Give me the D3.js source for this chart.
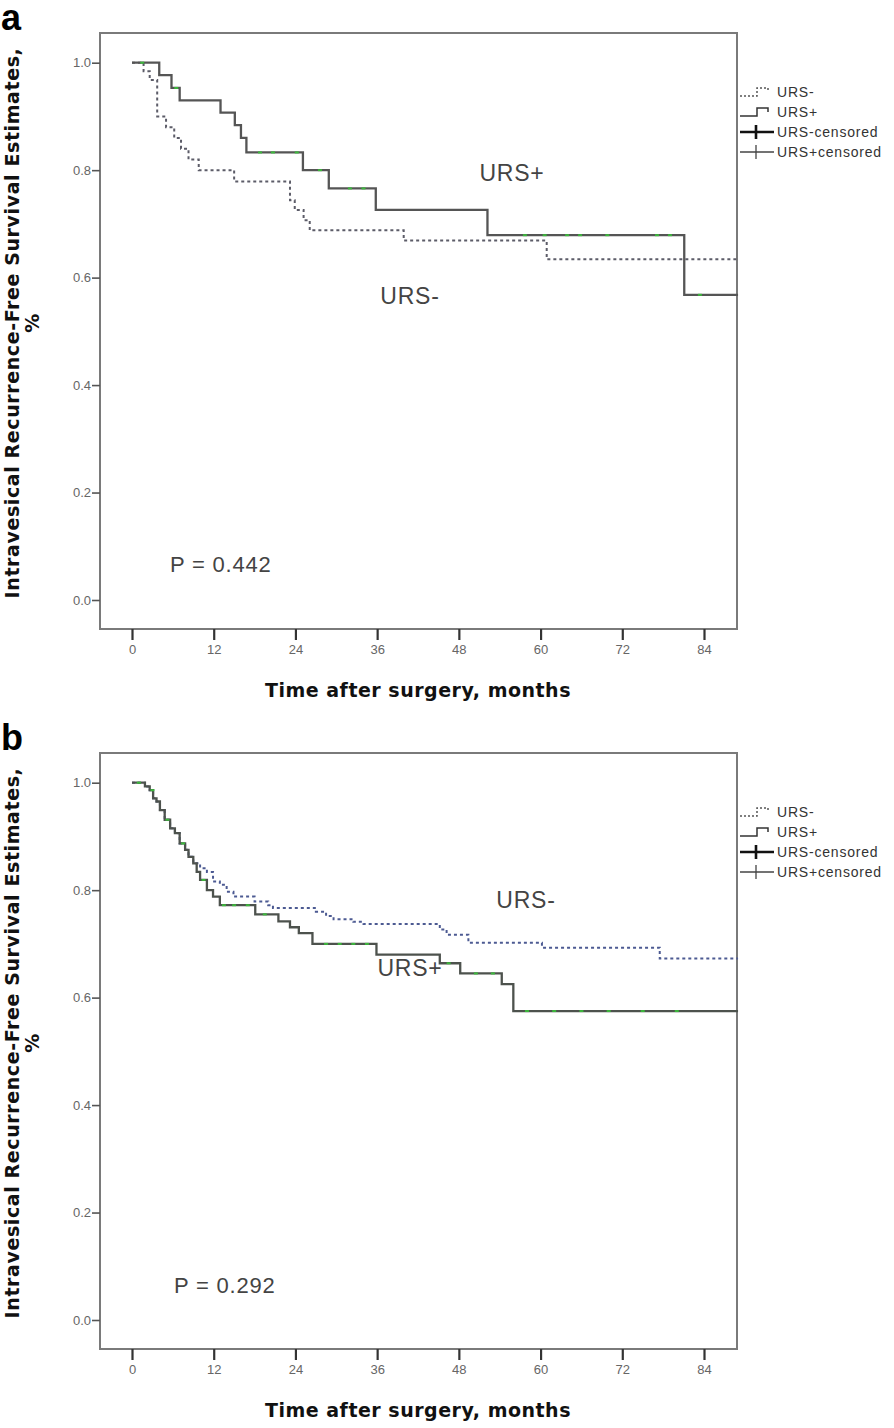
<!DOCTYPE html>
<html><head><meta charset="utf-8">
<script src="https://cdn.jsdelivr.net/npm/d3@7"></script>
<style>html,body{margin:0;padding:0;background:#fff}</style>
</head><body>
<script>
// ---- data ----
const xTicks = [0, 12, 24, 36, 48, 60, 72, 84];
const yTicks = [0, 0.2, 0.4, 0.6, 0.8, 1.0];
const legendLabels = ["URS-", "URS+", "URS-censored", "URS+censored"];

// Panel a
const aPlusTime = [0, 4.0, 5.8, 7.0, 13.0, 15.1, 16.0, 16.8, 25.1, 28.9, 35.8, 52.2, 81.1, 89];
const aPlusSurv = [1, 0.977, 0.953, 0.930, 0.907, 0.884, 0.860, 0.833, 0.800, 0.766, 0.726, 0.679, 0.568, 0.568];
const aMinusTime = [0, 1.7, 2.6, 3.7, 5.0, 6.2, 7.2, 8.3, 9.8, 15.0, 23.2, 23.9, 25.2, 26.1, 39.9, 60.9, 89];
const aMinusSurv = [1, 0.984, 0.968, 0.900, 0.880, 0.860, 0.840, 0.820, 0.800, 0.779, 0.744, 0.726, 0.707, 0.688, 0.669, 0.634, 0.634];
const aPlusCensor = [1.5, 6.5, 18.8, 20.7, 24.2, 27.6, 32.0, 34.0, 57.7, 60.6, 63.9, 65.8, 69.8, 77.1, 79.0, 83.4];

// Panel b
const bPlusTime = [0, 1.9, 2.6, 3.1, 3.6, 4.1, 4.8, 5.6, 6.3, 7.0, 7.8, 8.3, 9.0, 9.5, 10.0, 11.0, 11.9, 12.9, 18.1, 21.5, 23.2, 24.5, 26.5, 35.9, 45.2, 48.2, 54.3, 56.0, 89];
const bPlusSurv = [1, 0.993, 0.986, 0.971, 0.965, 0.949, 0.931, 0.915, 0.906, 0.887, 0.875, 0.862, 0.850, 0.834, 0.819, 0.800, 0.788, 0.772, 0.755, 0.742, 0.731, 0.720, 0.700, 0.680, 0.664, 0.645, 0.625, 0.575, 0.575];
const bMinusTime = [0, 1.9, 2.6, 3.1, 3.6, 4.1, 4.8, 5.6, 6.3, 7.0, 7.8, 8.3, 9.0, 10.0, 11.0, 11.9, 12.9, 13.9, 14.9, 18.0, 20.0, 20.7, 27.0, 28.5, 29.6, 32.5, 34.0, 45.2, 46.2, 49.4, 60.2, 77.5, 89];
const bMinusSurv = [1, 0.993, 0.986, 0.971, 0.965, 0.949, 0.931, 0.915, 0.906, 0.887, 0.875, 0.862, 0.850, 0.841, 0.834, 0.816, 0.810, 0.797, 0.788, 0.779, 0.772, 0.767, 0.760, 0.752, 0.746, 0.741, 0.737, 0.727, 0.717, 0.702, 0.693, 0.673, 0.673];
const bPlusCensor = [1.0, 3.0, 5.2, 7.5, 10.5, 13.5, 15.0, 17.0, 19.5, 28.5, 30.5, 32.5, 34.5, 46.5, 50.5, 53.0, 58.0, 62.0, 66.0, 70.0, 75.0, 80.0];

const pValues = ["P = 0.442", "P = 0.292"];
const panelLetters = ["a", "b"];
const curveLabels = [["URS+", "URS-"], ["URS-", "URS+"]];

// ---- layout ----
const W = 894, H = 1428;
const svg = d3.select("body").append("svg").attr("width", W).attr("height", H)
  .style("font-family", "'Liberation Sans', Arial, sans-serif");

const x = d3.scaleLinear().domain([0, 84]).range([132, 704]);
const frameL = 100, frameR = 737;

const panels = [
  { dy: 0, plus: [aPlusTime, aPlusSurv], minus: [aMinusTime, aMinusSurv], censor: aPlusCensor,
    labelPos: [[512, 181], [410, 304]], pPos: [170, 572],
    minusColor: "#5c5c68", plusColor: "#555" },
  { dy: 720, plus: [bPlusTime, bPlusSurv], minus: [bMinusTime, bMinusSurv], censor: bPlusCensor,
    labelPos: [[526, 908], [410, 976]], pPos: [174, 1293],
    minusColor: "#4c5a92", plusColor: "#4d524d" }
];

panels.forEach((p, i) => {
  const g = svg.append("g");
  const dy = p.dy;
  const y = d3.scaleLinear().domain([0, 1]).range([600 + dy, 62.7 + dy]);
  const frameT = 33 + dy, frameB = 629 + dy;

  // panel letter
  g.append("text").attr("x", 1).attr("y", 30 + dy)
    .attr("font-size", 36).attr("font-weight", "bold").attr("fill", "#000")
    .text(panelLetters[i]);

  // frame
  g.append("rect").attr("x", frameL).attr("y", frameT)
    .attr("width", frameR - frameL).attr("height", frameB - frameT)
    .attr("fill", "#fff").attr("stroke", "#7a7a7a").attr("stroke-width", 2);

  // y axis
  const ya = g.append("g").attr("transform", `translate(${frameL},0)`)
    .call(d3.axisLeft(y).tickValues(yTicks).tickFormat(d3.format(".1f")).tickSize(8).tickPadding(1));
  ya.select(".domain").remove();
  ya.selectAll(".tick line").attr("stroke", "#555").attr("stroke-width", 1.6);
  ya.selectAll(".tick text").attr("fill", "#666").attr("font-size", 13)
    .style("font-family", "'Liberation Sans Narrow', 'Arial Narrow', sans-serif");

  // x axis
  const xa = g.append("g").attr("transform", `translate(0,${frameB})`)
    .call(d3.axisBottom(x).tickValues(xTicks).tickFormat(d3.format("d")).tickSize(11).tickPadding(5));
  xa.select(".domain").remove();
  xa.selectAll(".tick line").attr("stroke", "#333").attr("stroke-width", 2.2);
  xa.selectAll(".tick text").attr("fill", "#666").attr("font-size", 13)
    .style("font-family", "'Liberation Sans Narrow', 'Arial Narrow', sans-serif");

  // axis titles
  g.append("text").attr("x", 418).attr("y", 697 + dy).attr("text-anchor", "middle")
    .attr("font-size", 19).attr("font-weight", "bold").attr("fill", "#111")
    .attr("letter-spacing", 0.5)
    .style("font-family", "'DejaVu Sans', sans-serif")
    .text("Time after surgery, months");
  const yt = g.append("text").attr("transform", `translate(19,${323 + dy}) rotate(-90)`)
    .attr("text-anchor", "middle").attr("font-size", 19).attr("font-weight", "bold").attr("fill", "#111")
    .attr("letter-spacing", 0.6)
    .style("font-family", "'DejaVu Sans', sans-serif");
  yt.append("tspan").attr("x", 0).attr("dy", 0).text("Intravesical Recurrence-Free Survival Estimates,");
  yt.append("tspan").attr("x", 0).attr("dy", 20).text("%");

  // curves
  const line = d3.line().x(d => x(d[0])).y(d => y(d[1])).curve(d3.curveStepAfter);
  const pts = s => s[0].map((t, k) => [t, s[1][k]]);
  g.append("path").datum(pts(p.minus)).attr("d", line).attr("fill", "none")
    .attr("stroke", p.minusColor).attr("stroke-width", 2).attr("stroke-dasharray", "3,3");
  g.append("path").datum(pts(p.plus)).attr("d", line).attr("fill", "none")
    .attr("stroke", p.plusColor).attr("stroke-width", 2.3);

  // censor marks (URS+) as small green ticks on the curve
  const survAt = (s, t) => { let v = s[1][0]; s[0].forEach((tt, k) => { if (tt <= t) v = s[1][k]; }); return v; };
  g.selectAll(null).data(p.censor).enter().append("line")
    .attr("x1", d => x(d) - 2).attr("x2", d => x(d) + 2)
    .attr("y1", d => y(survAt(p.plus, d))).attr("y2", d => y(survAt(p.plus, d)))
    .attr("stroke", "#3cb83c").attr("stroke-width", 2);

  // curve labels
  curveLabels[i].forEach((lab, k) => {
    g.append("text").attr("x", p.labelPos[k][0]).attr("y", p.labelPos[k][1])
      .attr("text-anchor", "middle").attr("font-size", 23).attr("fill", "#444")
      .attr("letter-spacing", 0.8)
      .text(lab);
  });

  // p value
  g.append("text").attr("x", p.pPos[0]).attr("y", p.pPos[1])
    .attr("font-size", 22).attr("fill", "#444").attr("letter-spacing", 0.8).text(pValues[i]);

  // legend
  const ly0 = 92 + dy, lsp = 20;
  legendLabels.forEach((lab, k) => {
    const ly = ly0 + k * lsp;
    const lg = g.append("g");
    if (k === 0 || k === 1) {
      lg.append("path")
        .attr("d", `M740,${ly + 4}H757V${ly - 4}H768V${ly}`)
        .attr("fill", "none").attr("stroke", k === 0 ? "#555" : "#333")
        .attr("stroke-width", 1.5).attr("stroke-dasharray", k === 0 ? "2,2" : null);
    } else {
      const sw = k === 2 ? 2.6 : 1.3;
      const col = k === 2 ? "#111" : "#444";
      lg.append("line").attr("x1", 740).attr("x2", 774).attr("y1", ly).attr("y2", ly)
        .attr("stroke", col).attr("stroke-width", sw);
      lg.append("line").attr("x1", 756).attr("x2", 756).attr("y1", ly - 7).attr("y2", ly + 7)
        .attr("stroke", col).attr("stroke-width", sw);
    }
    lg.append("text").attr("x", 777).attr("y", ly + 5)
      .attr("font-size", 14).attr("fill", "#333").attr("letter-spacing", 0.8)
      .text(lab);
  });
});
</script>
</body></html>
